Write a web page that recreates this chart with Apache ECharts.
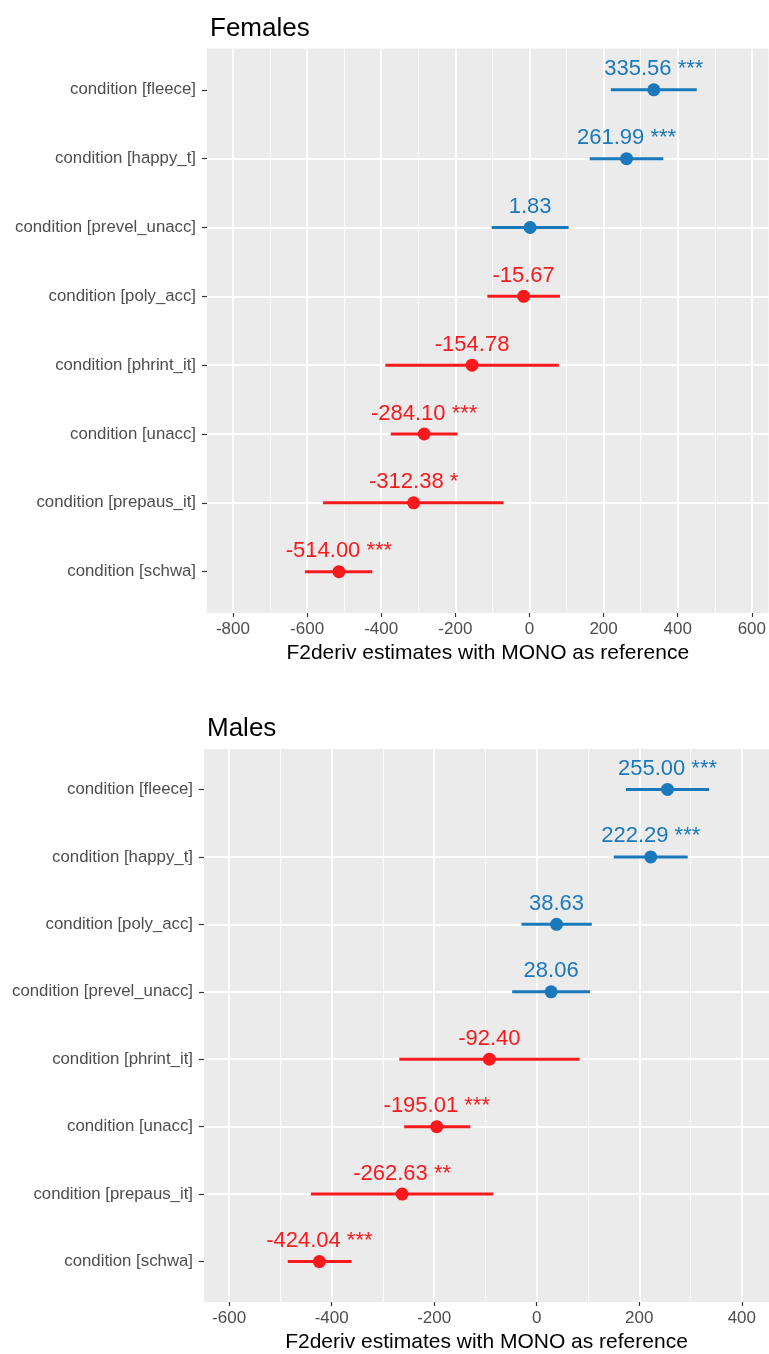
<!DOCTYPE html>
<html><head><meta charset="utf-8">
<script src="https://cdn.jsdelivr.net/npm/echarts@6/dist/echarts.min.js"></script>
<style>html,body{margin:0;padding:0;background:#fff}#c{width:769px;height:1354px}</style>
</head><body><div id="c"></div><script>
// ---------- data (top row first) ----------
const femaleCategories = ['condition [fleece]','condition [happy_t]','condition [prevel_unacc]','condition [poly_acc]','condition [phrint_it]','condition [unacc]','condition [prepaus_it]','condition [schwa]'];
const femaleEstimates = [335.56, 261.99, 1.83, -15.67, -154.78, -284.10, -312.38, -514.00];
const femaleLower = [219.5, 162.5, -102.0, -113.6, -388.8, -374.2, -556.8, -605.8];
const femaleUpper = [451.4, 361.3, 105.8, 82.3, 79.3, -194.0, -69.6, -424.1];
const femaleStars = ['***','***','','','','***','*','***'];

const maleCategories = ['condition [fleece]','condition [happy_t]','condition [poly_acc]','condition [prevel_unacc]','condition [phrint_it]','condition [unacc]','condition [prepaus_it]','condition [schwa]'];
const maleEstimates = [255.00, 222.29, 38.63, 28.06, -92.40, -195.01, -262.63, -424.04];
const maleLower = [173.8, 150.2, -29.8, -48.0, -268.1, -258.6, -440.6, -485.6];
const maleUpper = [336.3, 294.4, 107.4, 104.1, 83.7, -129.6, -85.0, -361.0];
const maleStars = ['***','***','','','','***','**','***'];

const femaleTicks = [-800,-600,-400,-200,0,200,400,600];
const maleTicks = [-600,-400,-200,0,200,400];
const axisTitle = 'F2deriv estimates with MONO as reference';

// ---------- style ----------
const FONT = '"Liberation Sans", Arial, sans-serif';
const BLUE = '#1A78BC';
const RED = '#FA1A1E';
const TXT = '#4D4D4D';
const PANEL = '#EBEBEB';

function colorOf(v){ return v >= 0 ? BLUE : RED; }

function buildPanel(idx, cats, est, lo, hi, stars, majors, xmin, xmax){
  const n = cats.length;
  const rows = cats.map((_, i) => n - i);
  const rowTicks = rows.slice().reverse();
  // data axis: carries gridlines and the axis title
  const xMain = {
    type:'value', gridIndex: idx, min: xmin, max: xmax, position:'bottom',
    minInterval:200, maxInterval:200,
    axisLine:{show:false, onZero:false},
    axisTick:{show:false},
    axisLabel:{show:false},
    minorTick:{show:false, splitNumber:2},
    splitLine:{show:true, showMinLine:false, showMaxLine:false, lineStyle:{color:'#fff', width:1.8}},
    minorSplitLine:{show:true, lineStyle:{color:'#fff', width:0.8}},
    name: axisTitle, nameLocation:'middle', nameGap:30,
    nameTextStyle:{color:'#000', fontSize:21, fontFamily:FONT}
  };
  // tick marks + tick labels
  const xTicks = {
    type:'value', gridIndex: idx, min: xmin, max: xmax, position:'bottom',
    axisLine:{show:false, onZero:false},
    axisTick:{show:true, length:4, customValues: majors, lineStyle:{color:'#333', width:1.2}},
    axisLabel:{show:true, customValues: majors, margin:8, color:TXT, fontSize:17, fontFamily:FONT},
    splitLine:{show:false}
  };
  const yAxis = {
    type:'value', gridIndex: idx, min:0.4, max: n + 0.6, position:'left',
    axisLine:{show:false, onZero:false},
    axisTick:{show:true, length:5, customValues: rowTicks, lineStyle:{color:'#333', width:1.2}},
    axisLabel:{show:true, customValues: rowTicks, margin:11, color:TXT, fontSize:16.8, fontFamily:FONT,
      formatter: v => cats[n - Math.round(v)]},
    splitLine:{show:true, showMinLine:false, showMaxLine:false, lineStyle:{color:'#fff', width:1.8}}
  };
  const barData = est.map((e, i) => [lo[i], hi[i], rows[i], e]);
  const pointData = est.map((e, i) => ({
    value:[e, rows[i]],
    itemStyle:{color: colorOf(e), opacity:1},
    label:{color: colorOf(e), formatter: e.toFixed(2) + (stars[i] ? ' ' + stars[i] : '')}
  }));
  const series = [
    {
      type:'custom', xAxisIndex: idx*2, yAxisIndex: idx, data: barData, z:3, silent:true,
      renderItem: (params, api) => {
        const a = api.coord([api.value(0), api.value(2)]);
        const b = api.coord([api.value(1), api.value(2)]);
        return {type:'line', shape:{x1:a[0], y1:a[1], x2:b[0], y2:b[1]},
          style:{stroke: colorOf(api.value(3)), lineWidth:3}};
      }
    },
    {
      type:'scatter', xAxisIndex: idx*2, yAxisIndex: idx, data: pointData, symbolSize:13, z:4, silent:true,
      itemStyle:{opacity:1},
      label:{show:true, position:'top', distance:3, fontSize:22, fontFamily:FONT, opacity:1}
    }
  ];
  return {xAxes:[xMain, xTicks], yAxis, series};
}

const pF = buildPanel(0, femaleCategories, femaleEstimates, femaleLower, femaleUpper, femaleStars, femaleTicks, -870, 645);
const pM = buildPanel(1, maleCategories, maleEstimates, maleLower, maleUpper, maleStars, maleTicks, -649, 453);

const chart = echarts.init(document.getElementById('c'), null, {renderer:'canvas'});
chart.setOption({
  backgroundColor:'#fff',
  animation:false,
  title:[
    {text:'Females', left:205, top:11, textStyle:{color:'#000', fontSize:26, fontWeight:'normal', fontFamily:FONT}},
    {text:'Males', left:202, top:711, textStyle:{color:'#000', fontSize:26, fontWeight:'normal', fontFamily:FONT}}
  ],
  grid:[
    {left:207, right:0, top:48.5, height:564.5, show:true, backgroundColor:PANEL, borderWidth:0},
    {left:204, right:0, top:749, height:559, show:true, backgroundColor:PANEL, borderWidth:0}
  ],
  xAxis:[...pF.xAxes, ...pM.xAxes],
  yAxis:[pF.yAxis, pM.yAxis],
  series:[...pF.series, ...pM.series]
});
</script></body></html>
